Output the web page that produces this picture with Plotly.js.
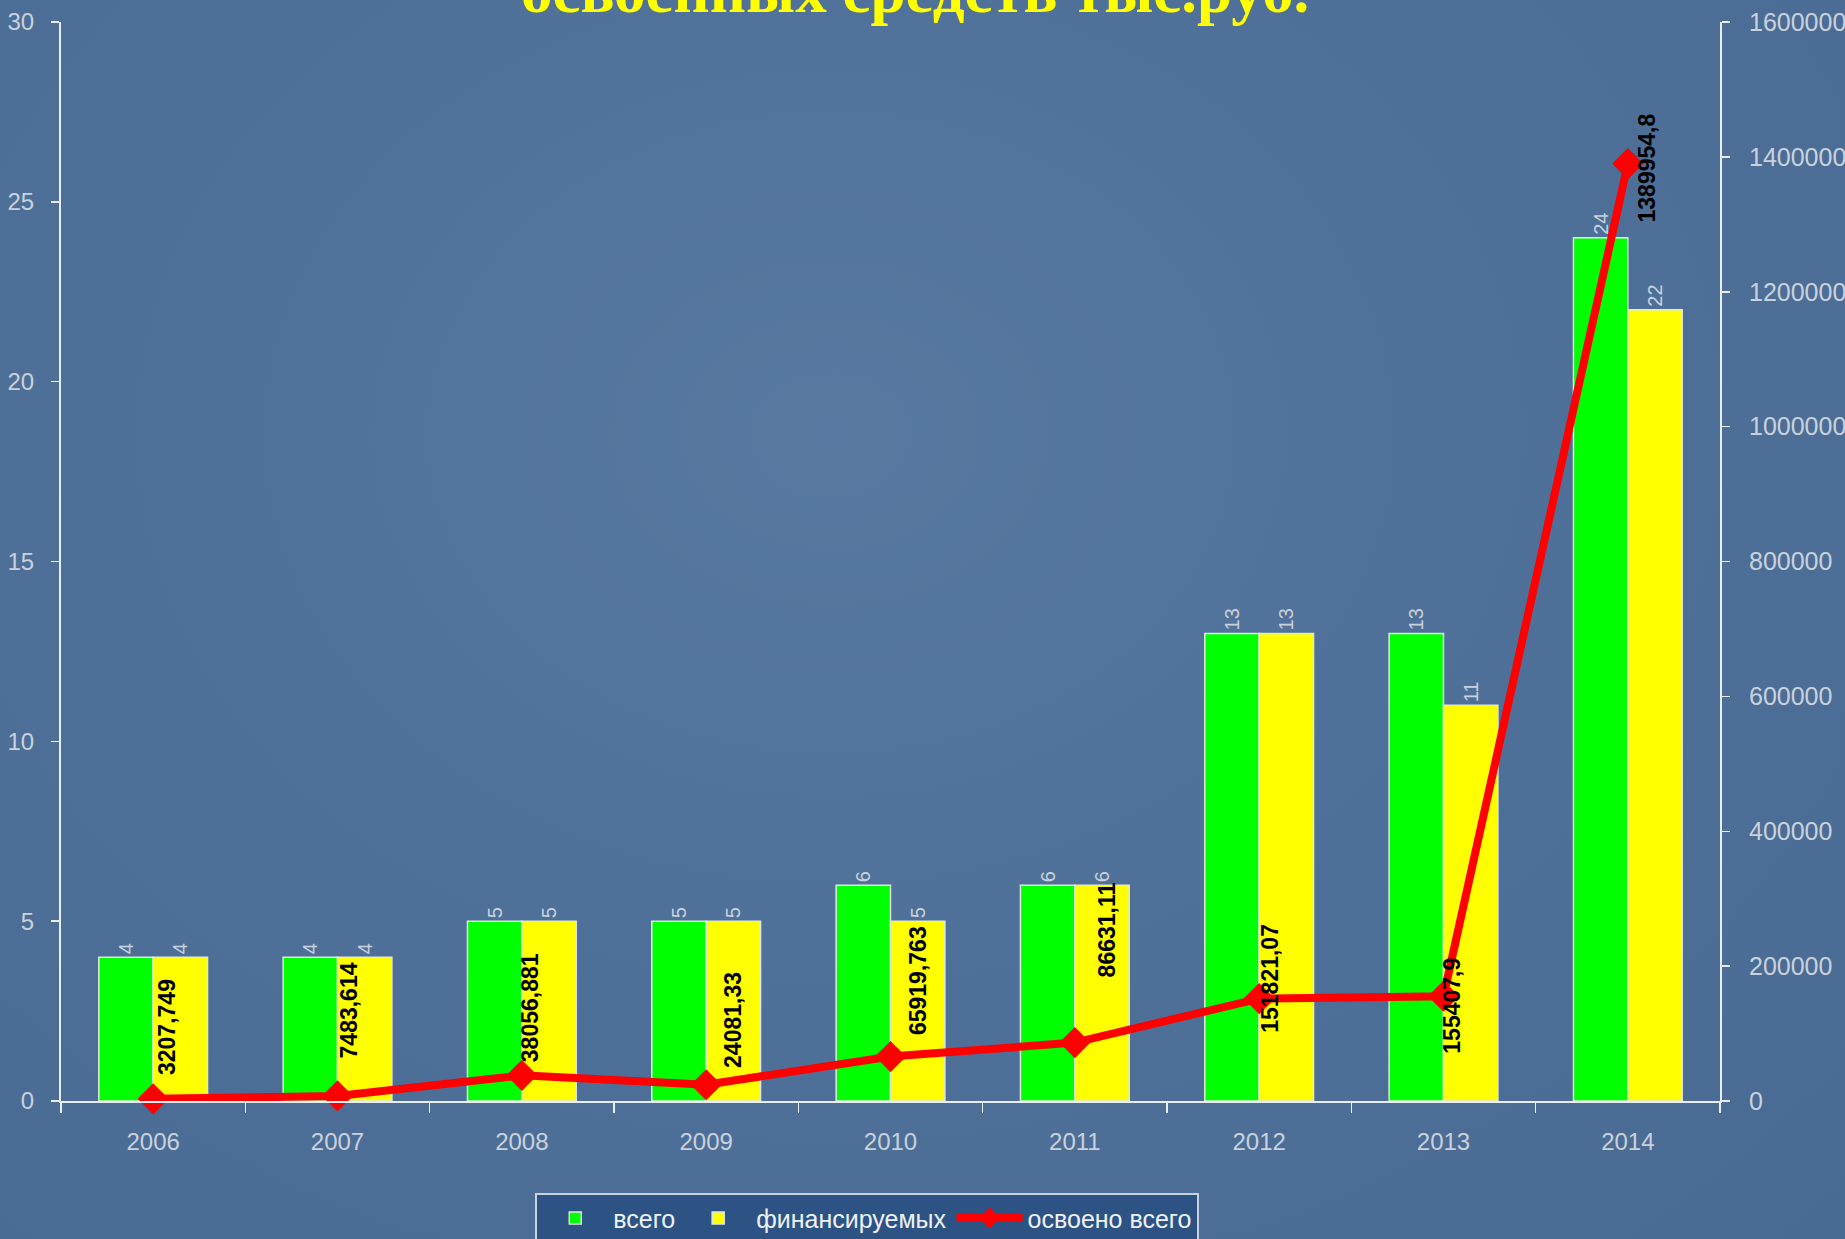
<!DOCTYPE html>
<html>
<head>
<meta charset="utf-8">
<script src="https://cdn.plot.ly/plotly-3.0.1.min.js"></script>
<style>
  html, body { margin: 0; padding: 0; }
  body {
    width: 1845px; height: 1239px; overflow: hidden;
    background: radial-gradient(ellipse at 45% 35%, #5878a0 0%, #4f7199 45%, #486a93 100%);
  }
  #chart { width: 1845px; height: 1239px; }
</style>
</head>
<body>
<div id="chart"></div>
<script>
// ---- data ----
const years = ['2006', '2007', '2008', '2009', '2010', '2011', '2012', '2013', '2014'];
const totalProjects = [4, 4, 5, 5, 6, 6, 13, 13, 24];          // всего
const financedProjects = [4, 4, 5, 5, 5, 6, 13, 11, 22];       // финансируемых
const fundsSpent = [3207.749, 7483.614, 38056.881, 24081.33, 65919.763, 86631.11, 151821.07, 155407.9, 1389954.8]; // освоено всего
const seriesNames = ['всего', 'финансируемых', 'освоено всего'];
const titleText = 'освоенных средств тыс.руб.';

// ---- label styling offsets (pixels) for the line value labels ----
const labelDx = [14, 11, 9, 27, 27, 32, 10, 9, 19];
const labelUp = [72, 85, 68, 65, 76, 113, 20, -10, -4];

const tickGrey = '#c9d2dc';
const axisWhite = '#e8eef4';

const barText = (arr) => arr.map(v => String(v));

const traces = [
  {
    type: 'bar', name: seriesNames[0], x: years, y: totalProjects,
    marker: { color: '#00ff00', line: { color: '#dfe8df', width: 1.5 } },
    text: barText(totalProjects), textposition: 'outside', textangle: -90,
    constraintext: 'none', cliponaxis: false,
    textfont: { family: 'Liberation Sans, Arial', size: 20, color: tickGrey },
    yaxis: 'y'
  },
  {
    type: 'bar', name: seriesNames[1], x: years, y: financedProjects,
    marker: { color: '#ffff00', line: { color: '#dfe8df', width: 1.5 } },
    text: barText(financedProjects), textposition: 'outside', textangle: -90,
    constraintext: 'none', cliponaxis: false,
    textfont: { family: 'Liberation Sans, Arial', size: 20, color: tickGrey },
    yaxis: 'y'
  },
  {
    type: 'scatter', mode: 'lines+markers', name: seriesNames[2], x: years, y: fundsSpent,
    line: { color: '#ff0000', width: 8 },
    marker: { symbol: 'diamond', size: 24, color: '#ff0000' },
    cliponaxis: false,
    yaxis: 'y2'
  }
];

const lineAnnotations = years.map((yr, i) => ({
  x: i, y: fundsSpent[i], xref: 'x', yref: 'y2',
  text: '<b>' + String(fundsSpent[i]).replace('.', ',') + '</b>',
  showarrow: false, textangle: -90,
  xanchor: 'center', yanchor: 'middle',
  xshift: labelDx[i], yshift: labelUp[i],
  font: { family: 'Liberation Sans, Arial', size: 23, color: '#000000' }
}));

const titleAnnotation = {
  xref: 'paper', yref: 'paper', x: 0.515, y: 1,
  xanchor: 'center', yanchor: 'bottom', yshift: -6,
  text: '<b>' + titleText + '</b>', showarrow: false,
  font: { family: 'Liberation Serif, Times New Roman, serif', size: 63, color: '#ffff00' }
};

const layout = {
  width: 1845, height: 1239,
  paper_bgcolor: 'rgba(0,0,0,0)',
  plot_bgcolor: 'rgba(0,0,0,0)',
  margin: { l: 61, r: 125, t: 22, b: 138, autoexpand: false },
  barmode: 'group', bargap: 0.41, bargroupgap: 0,
  showlegend: true,
  legend: {
    orientation: 'h', x: 0.486, xanchor: 'center',
    yref: 'container', y: 0.037, yanchor: 'top',
    bgcolor: '#2d5384', bordercolor: '#c8d2dc', borderwidth: 2,
    font: { family: 'Liberation Sans, Arial', size: 25, color: '#eef2f6' },
    itemwidth: 66, traceorder: 'normal'
  },
  xaxis: {
    type: 'category', range: [-0.5, 8.5],
    showline: true, linecolor: axisWhite, linewidth: 2,
    ticks: 'outside', ticklen: 10, tickcolor: axisWhite, tickwidth: 1.5,
    tickson: 'boundaries', showgrid: false, zeroline: false,
    tickfont: { family: 'Liberation Sans, Arial', size: 24, color: tickGrey },
    ticklabelstandoff: 18
  },
  yaxis: {
    range: [0, 30], dtick: 5, side: 'left',
    showline: true, linecolor: axisWhite, linewidth: 2,
    ticks: 'outside', ticklen: 8, tickcolor: axisWhite, tickwidth: 1.5,
    showgrid: false, zeroline: false,
    tickfont: { family: 'Liberation Sans, Arial', size: 24, color: tickGrey },
    ticklabelstandoff: 12
  },
  yaxis2: {
    range: [0, 1600000], dtick: 200000, tickformat: 'd', side: 'right', overlaying: 'y',
    showline: true, linecolor: axisWhite, linewidth: 2,
    ticks: 'outside', ticklen: 8, tickcolor: axisWhite, tickwidth: 1.5,
    showgrid: false, zeroline: false,
    tickfont: { family: 'Liberation Sans, Arial', size: 25, color: tickGrey },
    ticklabelstandoff: 14
  },
  yaxis3: {
    range: [0, 30], dtick: 5, side: 'left', overlaying: 'y',
    showline: false, ticks: 'inside', ticklen: 9, tickcolor: axisWhite, tickwidth: 1.5,
    showticklabels: false, showgrid: false, zeroline: false
  },
  yaxis4: {
    range: [0, 1600000], dtick: 200000, side: 'right', overlaying: 'y',
    showline: false, ticks: 'inside', ticklen: 9, tickcolor: axisWhite, tickwidth: 1.5,
    showticklabels: false, showgrid: false, zeroline: false
  },
  annotations: [titleAnnotation].concat(lineAnnotations)
};

Plotly.newPlot('chart', traces, layout, { staticPlot: true, displayModeBar: false });
</script>
</body>
</html>
